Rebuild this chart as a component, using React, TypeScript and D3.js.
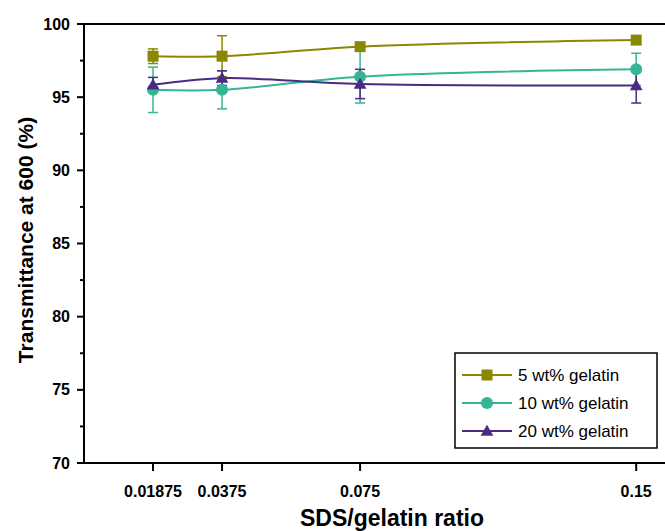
import React from "react";
import * as d3 from "d3";

const ratios = [0.01875, 0.0375, 0.075, 0.15];
const xTickLabels = ["0.01875", "0.0375", "0.075", "0.15"];
const yTicks = [70, 75, 80, 85, 90, 95, 100];

const seriesNames = ["5 wt% gelatin", "10 wt% gelatin", "20 wt% gelatin"];
const gel5 = [97.8, 97.8, 98.45, 98.9];
const gel5Err = [0.5, 1.4, 0.2, 0.15];
const gel10 = [95.5, 95.5, 96.4, 96.9];
const gel10Err = [1.55, 1.3, 1.8, 1.1];
const gel20 = [95.85, 96.3, 95.9, 95.8];
const gel20Err = [0.5, 0.5, 1.0, 1.2];

const colors = ["#8a8700", "#36b595", "#4b2a83"];
const markers = ["square", "circle", "triangle"];

const W = 665;
const H = 531;

export default function App() {
  const x = d3.scaleLinear().domain([0, 0.16]).range([84, 673]);
  const y = d3.scaleLinear().domain([70, 100]).range([463, 24]);

  const series = [
    { name: seriesNames[0], vals: gel5, err: gel5Err, color: colors[0], marker: markers[0] },
    { name: seriesNames[1], vals: gel10, err: gel10Err, color: colors[1], marker: markers[1] },
    { name: seriesNames[2], vals: gel20, err: gel20Err, color: colors[2], marker: markers[2] },
  ];

  const line = d3
    .line<number>()
    .x((_, i) => x(ratios[i]))
    .y((d) => y(d))
    .curve(d3.curveCatmullRom.alpha(0.5));

  const drawMarker = (type: string, cx: number, cy: number, color: string, key: string) => {
    if (type === "square") {
      return <rect key={key} x={cx - 5.5} y={cy - 5.5} width={11} height={11} fill={color} />;
    }
    if (type === "circle") {
      return <circle key={key} cx={cx} cy={cy} r={6} fill={color} />;
    }
    const sym = d3.symbol().type(d3.symbolTriangle).size(70)();
    return <path key={key} d={sym as string} transform={`translate(${cx},${cy + 1})`} fill={color} />;
  };

  const minorY = d3.range(72.5, 100, 5);
  const font = "Liberation Sans, Arial, sans-serif";

  return (
    <svg width={W} height={H} style={{ position: "absolute", left: 0, top: 0, background: "#fff" }}>
      <rect x={0} y={0} width={W} height={H} fill="#fff" />
      {/* axes */}
      <line x1={84} y1={24} x2={84} y2={463} stroke="#000" strokeWidth={2} />
      <line x1={84} y1={463} x2={W} y2={463} stroke="#000" strokeWidth={2} />
      <line x1={84} y1={24} x2={W} y2={24} stroke="#000" strokeWidth={2} />
      {yTicks.map((t) => (
        <g key={"yt" + t}>
          <line x1={77} x2={84} y1={y(t)} y2={y(t)} stroke="#000" strokeWidth={2} />
          <text
            x={70}
            y={y(t)}
            dy="0.35em"
            textAnchor="end"
            fontFamily={font}
            fontWeight="bold"
            fontSize={16}
          >
            {t}
          </text>
        </g>
      ))}
      {minorY.map((t) => (
        <line key={"ym" + t} x1={80} x2={84} y1={y(t)} y2={y(t)} stroke="#000" strokeWidth={2} />
      ))}
      {ratios.map((r, i) => (
        <g key={"xt" + i}>
          <line x1={x(r)} x2={x(r)} y1={463} y2={471} stroke="#000" strokeWidth={2} />
          <text
            x={x(r)}
            y={497}
            textAnchor="middle"
            fontFamily={font}
            fontWeight="bold"
            fontSize={16}
          >
            {xTickLabels[i]}
          </text>
        </g>
      ))}
      <text
        x={392}
        y={526}
        textAnchor="middle"
        fontFamily={font}
        fontWeight="bold"
        fontSize={23}
      >
        SDS/gelatin ratio
      </text>
      <text
        transform={`translate(33,240) rotate(-90)`}
        textAnchor="middle"
        fontFamily={font}
        fontWeight="bold"
        fontSize={21}
      >
        Transmittance at 600 (%)
      </text>

      {/* error bars */}
      {series.map((s, si) =>
        s.vals.map((v, i) => {
          const cx = x(ratios[i]);
          const yt = y(v + s.err[i]);
          const yb = y(v - s.err[i]);
          return (
            <g key={`e${si}-${i}`} stroke={s.color} strokeWidth={1.5}>
              <line x1={cx} x2={cx} y1={yt} y2={yb} />
              <line x1={cx - 5} x2={cx + 5} y1={yt} y2={yt} />
              <line x1={cx - 5} x2={cx + 5} y1={yb} y2={yb} />
            </g>
          );
        })
      )}
      {/* lines */}
      {series.map((s, si) => (
        <path key={"l" + si} d={line(s.vals) as string} fill="none" stroke={s.color} strokeWidth={2} />
      ))}
      {/* markers */}
      {series.map((s, si) =>
        s.vals.map((v, i) => drawMarker(s.marker, x(ratios[i]), y(v), s.color, `m${si}-${i}`))
      )}

      {/* legend */}
      <rect x={455} y={353} width={202} height={95} fill="#fff" stroke="#000" strokeWidth={1.5} />
      {series.map((s, i) => {
        const ly = 375 + i * 28;
        return (
          <g key={"lg" + i}>
            <line x1={462} x2={512} y1={ly} y2={ly} stroke={s.color} strokeWidth={2} />
            {drawMarker(s.marker, 487, ly, s.color, "lm" + i)}
            <text x={518} y={ly} dy="0.35em" fontFamily={font} fontSize={17}>
              {s.name}
            </text>
          </g>
        );
      })}
    </svg>
  );
}
